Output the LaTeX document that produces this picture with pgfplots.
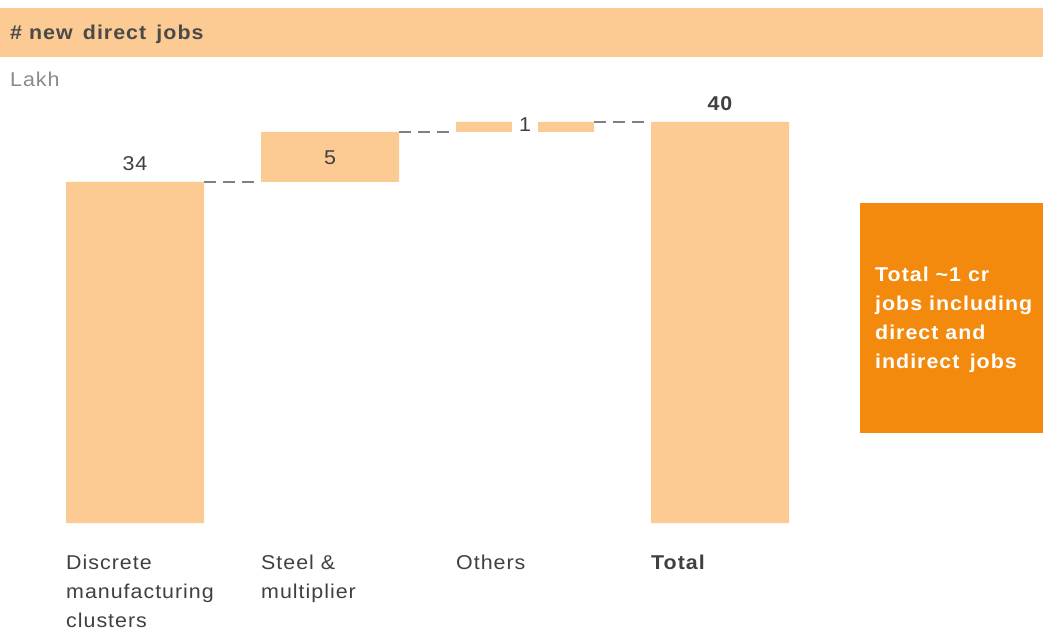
\documentclass[border=0pt]{standalone}
\usepackage{pgfplots}
\pgfplotsset{compat=1.18}
\usepackage{fontspec}
\setmainfont{Liberation Sans}[LetterSpace=5,FakeStretch=1.07]
\definecolor{barc}{HTML}{FBCB93}
\definecolor{boxc}{HTML}{F38A0D}
\definecolor{hdrtxt}{HTML}{4A4A4A}
\definecolor{lbl}{HTML}{404040}
\definecolor{lakh}{HTML}{8A8A8A}
\definecolor{dashc}{HTML}{808080}
\begin{document}
\begin{tikzpicture}[x=1pt,y=1pt]
\path (0,0) rectangle (1043,630);
\fill[barc] (0,573) rectangle (1043,622);
\node[anchor=base west, inner sep=0, text=hdrtxt, font=\fontsize{20}{24}\selectfont\bfseries] at (10,590) {\# new\ \,direct\ \,jobs};
\node[anchor=base west, inner sep=0, text=lakh, font=\fontsize{20}{24}\selectfont] at (10,543) {Lakh};
\fill[boxc] (860,197) rectangle (1043,427);
\node[anchor=north west, inner sep=0, text=white, align=left, font=\fontsize{20}{29}\selectfont\bfseries] at (875,363) {Total \textasciitilde1 cr\\jobs including\\direct and\\indirect\ \,jobs};
\begin{axis}[
  at={(37.5pt,107pt)}, anchor=south west,
  scale only axis, width=780pt, height=451.35pt,
  xmin=-0.5, xmax=3.5, ymin=0, ymax=45,
  axis line style={draw=none}, ytick=\empty,
  xtick={0,1,2,3}, major tick length=0pt,
  xticklabels={{Discrete\\manufacturing\\clusters}, {Steel \&\\multiplier}, Others, \textbf{Total}},
  xticklabel style={anchor=north west, xshift=-69pt, yshift=-32pt, align=left, inner sep=0pt, text=lbl, font=\fontsize{20}{29}\selectfont},
  ybar stacked, bar width=138pt,
  clip=false,
]
\addplot[draw=none, fill=none] coordinates {(0,0) (1,34) (2,39) (3,0)};
\addplot[draw=none, fill=barc] coordinates {(0,34) (1,5) (2,1) (3,40)};
\draw[dashc, line width=1.8pt, dash pattern=on 12pt off 7pt] (axis cs:0.354,34) -- (axis cs:0.646,34);
\draw[dashc, line width=1.8pt, dash pattern=on 12pt off 7pt] (axis cs:1.354,39) -- (axis cs:1.646,39);
\draw[dashc, line width=1.8pt, dash pattern=on 12pt off 7pt] (axis cs:2.354,40) -- (axis cs:2.646,40);
\coordinate (l34) at (axis cs:0,35.1);
\coordinate (l5) at (axis cs:1,35.7);
\coordinate (l1) at (axis cs:2,39.0);
\coordinate (l40) at (axis cs:3,41.1);
\end{axis}
\node[anchor=base, inner sep=0, text=lbl, font=\fontsize{20}{24}\selectfont] at (l34) {34};
\node[anchor=base, inner sep=0, text=lbl, font=\fontsize{20}{24}\selectfont] at (l5) {5};
\node[anchor=base, fill=white, inner xsep=7pt, inner ysep=0pt, text=lbl, font=\fontsize{20}{24}\selectfont] at (l1) {1};
\node[anchor=base, inner sep=0, text=lbl, font=\fontsize{20}{24}\selectfont\bfseries] at (l40) {40};
\end{tikzpicture}
\end{document}
